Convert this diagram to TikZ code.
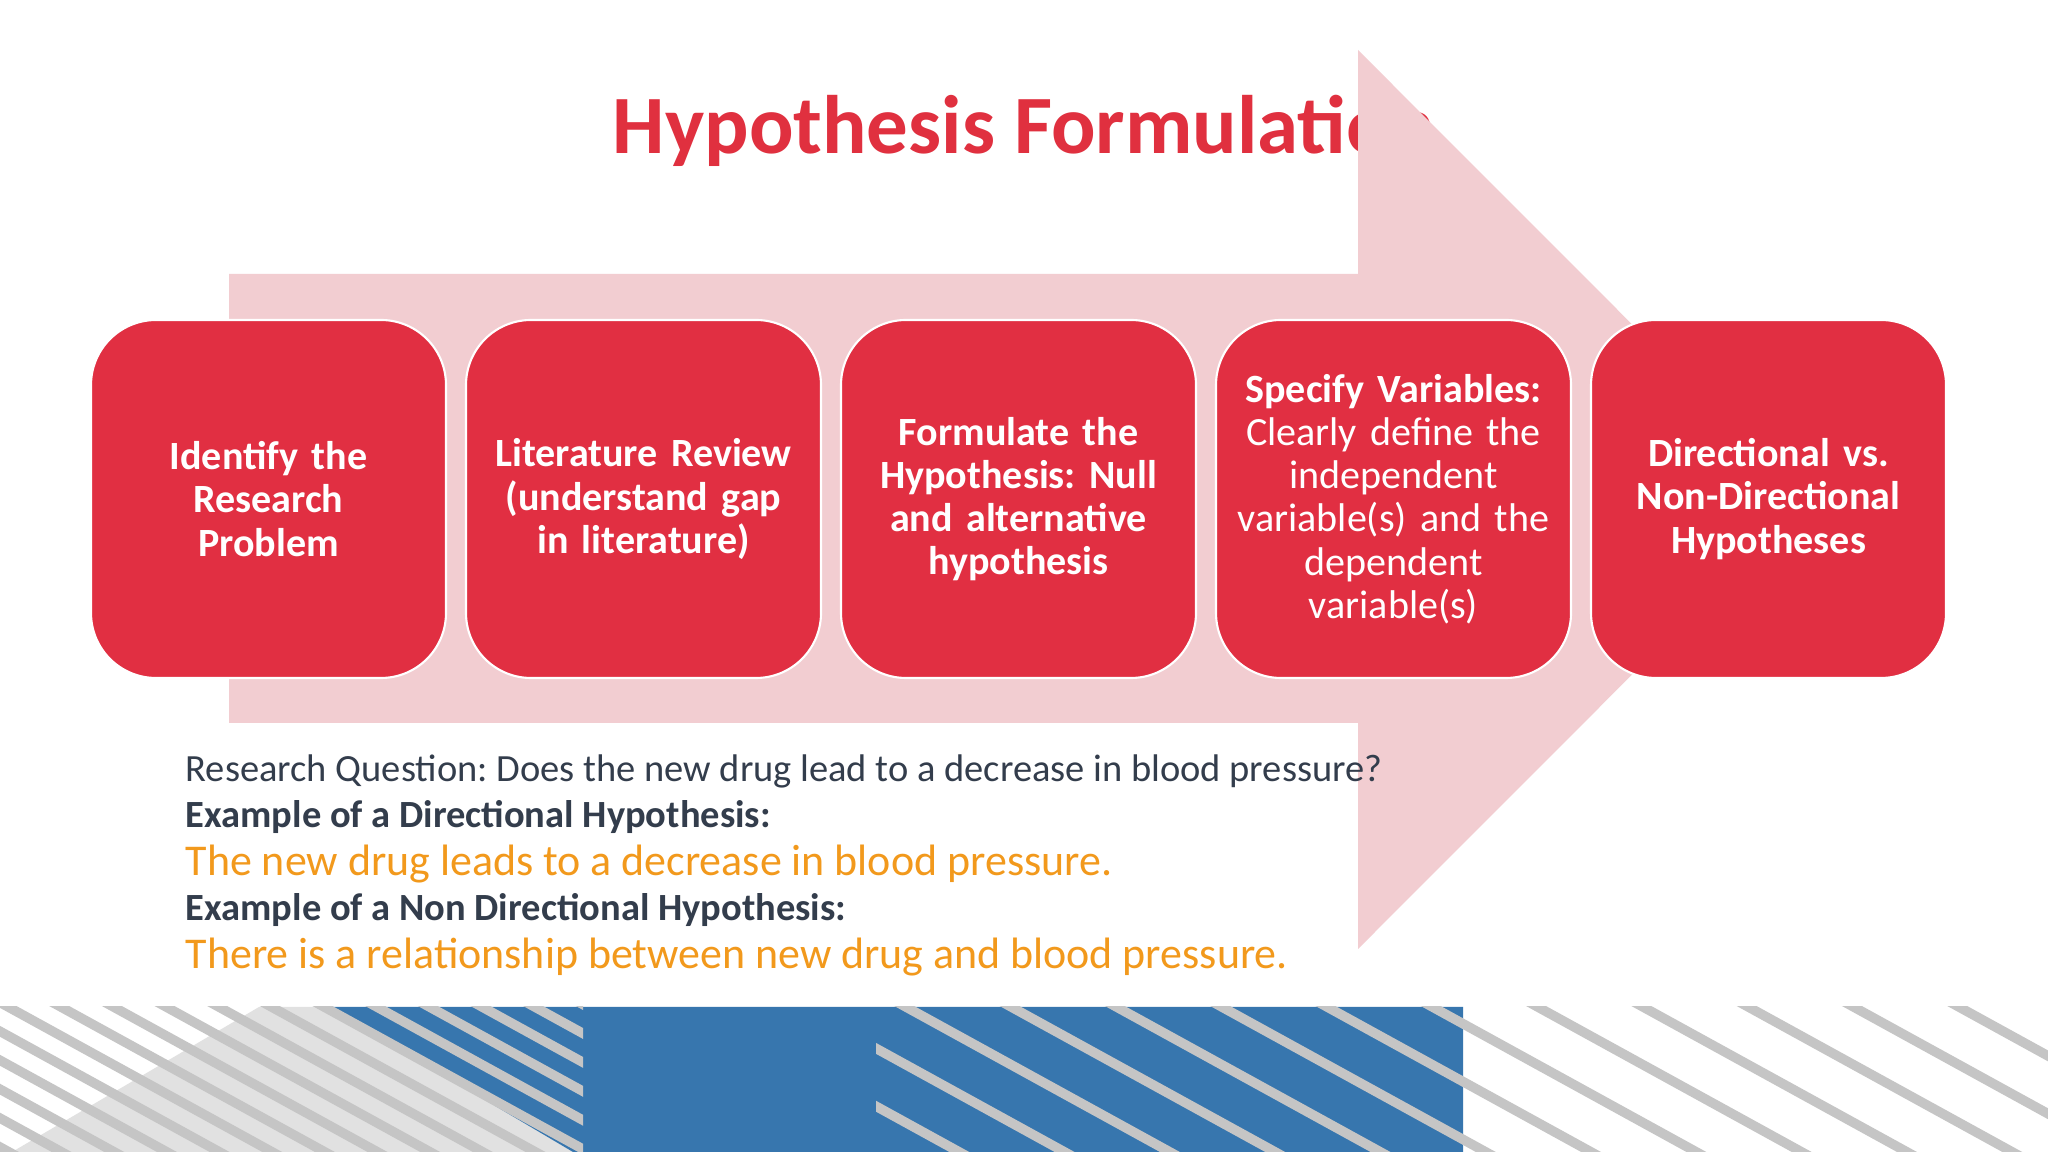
\documentclass[tikz,border=0pt]{standalone}
\usepackage{fontspec}
\setmainfont{Carlito}
\definecolor{boxred}{HTML}{E12F42}
\definecolor{titlered}{HTML}{E0303F}
\definecolor{arrowpink}{HTML}{F2CDD1}
\definecolor{darktext}{HTML}{333D4C}
\definecolor{orangetext}{HTML}{F2991C}
\definecolor{bandblue}{HTML}{3776AE}
\definecolor{stripegrey}{HTML}{C5C5C5}
\definecolor{lightgrey}{HTML}{E1E1E1}
\begin{document}
\frenchspacing
\begin{tikzpicture}[x=0.1mm,y=-0.1mm,
  stepbox/.style={draw=white, line width=0.6pt, fill=boxred, rounded corners=6.5mm,
    minimum width=35.5mm, minimum height=35.8mm, text width=33mm, align=center,
    text=white, font=\fontsize{11.4}{12.3}\selectfont, inner sep=0pt},
  titlestyle/.style={text=titlered, font=\fontsize{23.6}{28}\selectfont\bfseries, inner sep=0pt},
  plaintext/.style={anchor=base west, inner sep=0pt, text=darktext, font=\fontsize{10.95}{13}\selectfont},
  boldtext/.style={plaintext, font=\fontsize{10.95}{13}\selectfont\bfseries},
  orangeline/.style={anchor=base west, inner sep=0pt, text=orangetext, font=\fontsize{12.5}{15}\selectfont},
  stripeline/.style={draw=stripegrey, line width=2.73pt}
]
\useasboundingbox (0,0) rectangle (2048,1152);
\fill[white] (0,0) rectangle (2048,1152);

% title
\node[titlestyle, anchor=base] (title) at (1024,154) {Hypothesis Formulation};

% big arrow
\fill[arrowpink] (229,274) -- (1358,274) -- (1358,50) -- (1807,499.5) -- (1358,949)
  -- (1358,723) -- (229,723) -- cycle;

% boxes
\node[stepbox] (b1) at (268.5,499) {\bfseries Identify the\\Research\\Problem};
\node[stepbox] (b2) at (643.5,499) {\bfseries Literature Review\\(understand gap\\in literature)};
\node[stepbox] (b3) at (1018.5,499) {\bfseries Formulate the\\Hypothesis: Null\\and alternative\\hypothesis};
\node[stepbox] (b4) at (1393.5,499) {\textbf{Specify Variables:}\\Clearly define the\\independent\\variable(s) and the\\dependent\\variable(s)};
\node[stepbox] (b5) at (1768.5,499) {\bfseries Directional vs.\\Non-Directional\\Hypotheses};

% lower text
\node[plaintext] (rq) at (185,782) {Research Question: Does the new drug lead to a decrease in blood pressure?};
\node[boldtext] (ex1) at (185,828) {Example of a Directional Hypothesis:};
\node[orangeline] (h1) at (185,876) {The new drug leads to a decrease in blood pressure.};
\node[boldtext] (ex2) at (185,921) {Example of a Non Directional Hypothesis:};
\node[orangeline] (h2) at (185,969) {There is a relationship between new drug and blood pressure.};

% bottom band
\fill[lightgrey] (259,1007) -- (328,1007) -- (573,1152) -- (12,1152) -- cycle;
\fill[bandblue] (328,1007) -- (1463,1007) -- (1463,1152) -- (573,1152) -- cycle;
\begin{scope}
  \clip (0,1007) rectangle (583,1152);
  \foreach \k in {-6,...,10} {
    \pgfmathsetmacro{\xc}{61+52.65*\k}
    \draw[stripeline] (\xc-18.2,997) -- (\xc+282.1,1162);
  }
\end{scope}
\begin{scope}
  \clip (876,1007) rectangle (2048,1152);
  \foreach \k in {-3,...,11} {
    \pgfmathsetmacro{\xc}{906+105.3*\k}
    \draw[stripeline] (\xc-18.2,997) -- (\xc+282.1,1162);
  }
\end{scope}
\end{tikzpicture}
\end{document}
